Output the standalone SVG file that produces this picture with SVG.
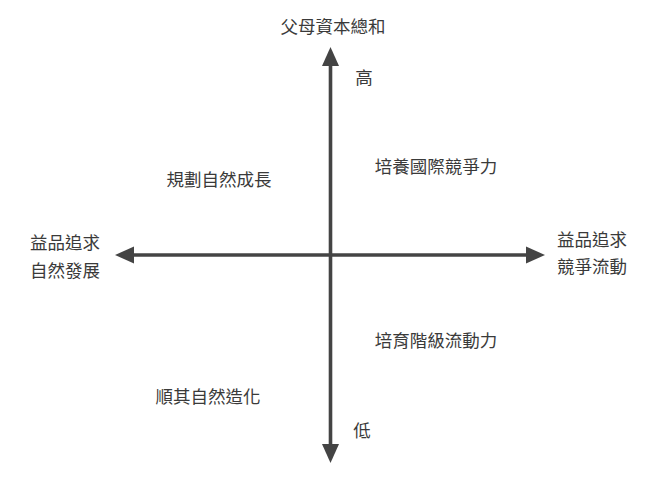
<svg xmlns="http://www.w3.org/2000/svg" width="660" height="481" viewBox="0 0 660 481">
<style>
text{font-family:"Noto Sans CJK TC","Noto Sans CJK SC",sans-serif;font-size:17.5px;fill:#3a3a3a;text-anchor:middle}
.ax{stroke:#444;stroke-width:3.6;fill:none}
</style>
<defs>
<marker id="ah" markerUnits="userSpaceOnUse" viewBox="0 -9 19 18" refX="0" refY="0" markerWidth="19" markerHeight="18" orient="auto-start-reverse">
<path d="M0,-8.5 L19,0 L0,8.5 Z" fill="#444"/>
</marker>
</defs>
<rect width="660" height="481" fill="#fff"/>
<g id="connectors">
<line class="ax" x1="330.5" y1="66" x2="330.5" y2="444" marker-start="url(#ah)" marker-end="url(#ah)"/>
<line class="ax" x1="134" y1="255" x2="526" y2="255" marker-start="url(#ah)" marker-end="url(#ah)"/>
</g>
<g id="y-axis-label"><text x="333" y="33">父母資本總和</text></g>
<g id="high"><text x="364" y="84">高</text></g>
<g id="low"><text x="362" y="437">低</text></g>
<g id="left-label"><text x="65" y="249">益品追求</text><text x="65" y="277">自然發展</text></g>
<g id="right-label"><text x="592" y="246">益品追求</text><text x="592" y="273">競爭流動</text></g>
<g id="q-top-left"><text x="219" y="186">規劃自然成長</text></g>
<g id="q-top-right"><text x="436" y="173">培養國際競爭力</text></g>
<g id="q-bottom-right"><text x="436" y="347">培育階級流動力</text></g>
<g id="q-bottom-left"><text x="208" y="403">順其自然造化</text></g>
</svg>
